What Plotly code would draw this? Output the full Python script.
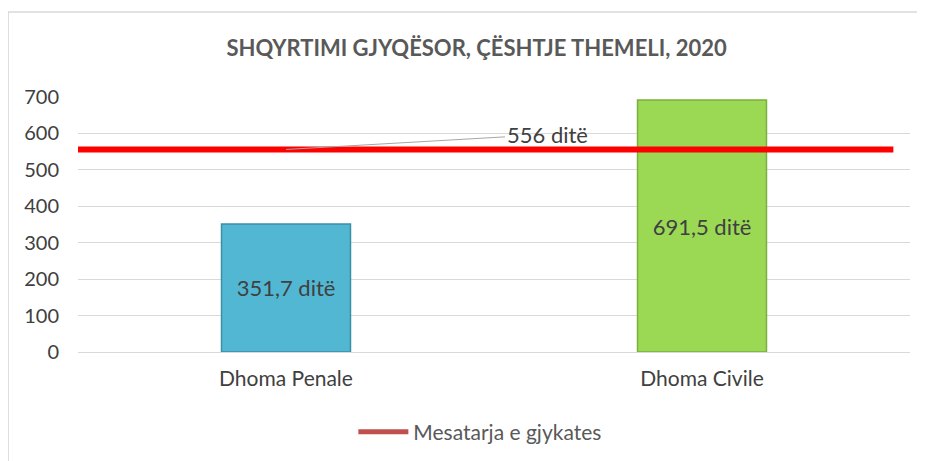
import plotly.graph_objects as go

categories = ['Dhoma Penale', 'Dhoma Civile']
days = [351.7, 691.5]
bar_labels = ['351,7 ditë', '691,5 ditë']
court_mean = 556
mean_label = '556 ditë'
legend_name = 'Mesatarja e gjykates'
y_ticks = [0, 100, 200, 300, 400, 500, 600, 700]

font = 'Lato, Calibri, sans-serif'

fig = go.Figure()

fig.add_trace(go.Bar(
    x=categories, y=days,
    text=bar_labels, textposition='inside', insidetextanchor='middle',
    textfont=dict(size=22, color='#404040', family=font),
    marker=dict(color=['#52b7d2', '#9bd955'],
                line=dict(color=['#3a8fa6', '#79b03e'], width=1.5)),
    width=0.31, showlegend=False,
))

# red mean line across the whole plot area (overlay numeric axis)
fig.add_trace(go.Scatter(
    x=[-0.01, 0.98], y=[court_mean, court_mean], xaxis='x2',
    mode='lines', line=dict(color='#ff0000', width=6),
    showlegend=False, cliponaxis=False, hoverinfo='skip',
))

# legend entry only
fig.add_trace(go.Scatter(
    x=[None], y=[None], mode='lines', name=legend_name,
    line=dict(color='#c0504d', width=5),
))

fig.add_annotation(
    x=categories[0], y=court_mean, xref='x', yref='y',
    text=mean_label, showarrow=True, arrowhead=0, arrowwidth=1,
    arrowcolor='#a6a6a6', ax=261, ay=-15, xanchor='center',
    font=dict(size=22, color='#404040', family=font),
)

fig.update_layout(
    width=917, height=453,
    paper_bgcolor='white', plot_bgcolor='white',
    margin=dict(l=70, r=15, t=89, b=109),
    title=dict(text='<b>SHQYRTIMI GJYQËSOR, ÇËSHTJE THEMELI, 2020</b>',
               x=0.511, xanchor='center', y=0.91, yanchor='middle',
               font=dict(size=22, color='#595959', family=font)),
    font=dict(family=font, color='#404040'),
    xaxis=dict(tickfont=dict(size=21, color='#404040'), showgrid=False,
               showline=True, linecolor='#d9d9d9', linewidth=1, ticks='',
               ticklabelstandoff=8),
    xaxis2=dict(overlaying='x', range=[0, 1], visible=False),
    yaxis=dict(range=[0, 700], tickvals=y_ticks, showgrid=True,
               gridcolor='#d9d9d9', gridwidth=1, zeroline=False,
               tickfont=dict(size=20, color='#404040'), ticklabelstandoff=18),
    legend=dict(orientation='h', x=0.483, xanchor='center', y=0.064,
                yref='container', yanchor='middle',
                font=dict(size=21, color='#595959', family=font),
                itemwidth=50),
    bargap=0.69,
    shapes=[dict(type='rect', xref='paper', yref='paper', x0=-0.084, x1=1.05,
                 y0=-0.5, y1=1.333, line=dict(color='#d9d9d9', width=1.5),
                 fillcolor='rgba(0,0,0,0)', layer='below')],
)

fig.write_html('out.html')
